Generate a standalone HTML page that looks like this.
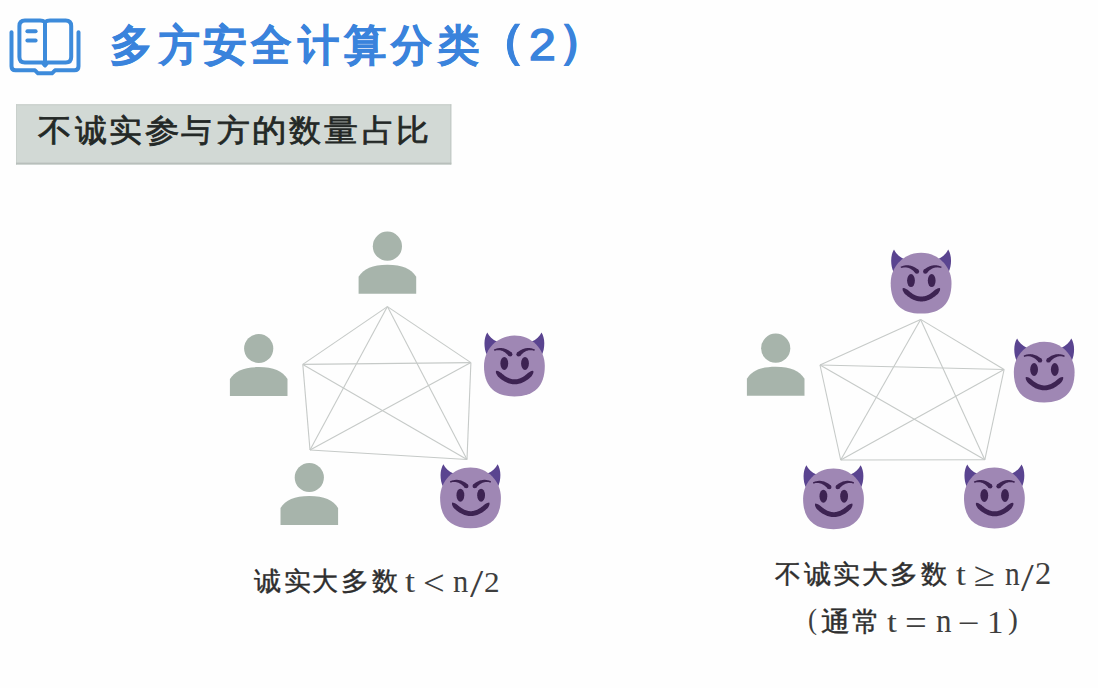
<!DOCTYPE html>
<html><head><meta charset="utf-8">
<style>
html,body{margin:0;padding:0;background:#fefefe;}
body{width:1098px;height:688px;position:relative;overflow:hidden;font-family:"Liberation Sans",sans-serif;}
.t{position:absolute;white-space:nowrap;line-height:1;transform-origin:0 0;}
.m{font-family:"Liberation Serif",serif;font-size:30px;color:#333;}
.c{font-size:28.5px;color:#333;-webkit-text-stroke:0.3px #333;}
</style></head><body>
<svg width="1098" height="688" viewBox="0 0 1098 688" style="position:absolute;left:0;top:0">
<defs>
<g id="imp">
 <path d="M-27.5,-11 C-30.8,-18 -30.8,-28 -27.1,-33.6 C-25.3,-29.8 -22,-26.6 -17,-24.2 Z" fill="#5a4490"/>
 <path d="M27.5,-11 C30.8,-18 30.8,-28 27.1,-33.6 C25.3,-29.8 22,-26.6 17,-24.2 Z" fill="#5a4490"/>
 <path d="M-30.4,0 C-30.4,-17.02 -17.02,-30.4 0,-30.4 C17.02,-30.4 30.4,-17.02 30.4,0 C30.4,20.06 20.06,30.4 0,30.4 C-20.06,30.4 -30.4,20.06 -30.4,0 Z" fill="#9f87b4"/>
 <g fill="#3d2352">
 <path d="M-20.04,-15.15 L-19.36,-15.37 L-18.68,-15.55 L-18.01,-15.68 L-17.36,-15.77 L-16.70,-15.82 L-16.06,-15.84 L-15.43,-15.81 L-14.81,-15.75 L-14.20,-15.66 L-13.59,-15.53 L-13.00,-15.36 L-12.41,-15.16 L-11.83,-14.93 L-11.25,-14.66 L-10.69,-14.36 L-10.12,-14.03 L-9.56,-13.66 L-9.01,-13.26 L-8.46,-12.83 L-7.91,-12.36 L-7.36,-11.85 L-6.82,-11.31 L-6.27,-10.74 L-5.74,-10.12 L-2.66,-13.28 L-3.41,-13.88 L-4.16,-14.44 L-4.91,-14.96 L-5.67,-15.44 L-6.42,-15.88 L-7.18,-16.28 L-7.94,-16.63 L-8.70,-16.95 L-9.46,-17.22 L-10.22,-17.45 L-10.98,-17.64 L-11.74,-17.79 L-12.50,-17.89 L-13.25,-17.95 L-14.00,-17.98 L-14.75,-17.96 L-15.49,-17.90 L-16.22,-17.80 L-16.96,-17.66 L-17.68,-17.49 L-18.41,-17.28 L-19.13,-17.03 L-19.84,-16.76 L-20.56,-16.45Z"/><circle cx="-4.20" cy="-11.70" r="2.2"/><path d="M20.56,-16.45 L19.84,-16.76 L19.13,-17.03 L18.41,-17.28 L17.68,-17.49 L16.96,-17.66 L16.22,-17.80 L15.49,-17.90 L14.75,-17.96 L14.00,-17.98 L13.25,-17.95 L12.50,-17.89 L11.74,-17.79 L10.98,-17.64 L10.22,-17.45 L9.46,-17.22 L8.70,-16.95 L7.94,-16.63 L7.18,-16.28 L6.42,-15.88 L5.67,-15.44 L4.91,-14.96 L4.16,-14.44 L3.41,-13.88 L2.66,-13.28 L5.74,-10.12 L6.27,-10.74 L6.82,-11.31 L7.36,-11.85 L7.91,-12.36 L8.46,-12.83 L9.01,-13.26 L9.56,-13.66 L10.12,-14.03 L10.69,-14.36 L11.25,-14.66 L11.83,-14.93 L12.41,-15.16 L13.00,-15.36 L13.59,-15.53 L14.20,-15.66 L14.81,-15.75 L15.43,-15.81 L16.06,-15.84 L16.70,-15.82 L17.36,-15.77 L18.01,-15.68 L18.68,-15.55 L19.36,-15.37 L20.04,-15.15Z"/><circle cx="4.20" cy="-11.70" r="2.2"/>
 <ellipse cx="-10.1" cy="-2.6" rx="3.9" ry="6.5"/>
 <ellipse cx="10.6" cy="-2.6" rx="3.9" ry="6.5"/>
 <path d="M-18.53,5.20 L-18.44,7.01 L-17.82,8.37 L-17.11,9.61 L-16.26,10.68 L-15.27,11.57 L-14.28,12.41 L-13.29,13.19 L-12.28,13.92 L-11.27,14.60 L-10.26,15.22 L-9.23,15.78 L-8.20,16.29 L-7.17,16.75 L-6.12,17.14 L-5.07,17.48 L-4.02,17.75 L-2.95,17.97 L-1.89,18.13 L-0.82,18.22 L0.25,18.25 L1.32,18.22 L2.39,18.13 L3.45,17.97 L4.52,17.75 L5.57,17.48 L6.62,17.14 L7.67,16.75 L8.70,16.29 L9.73,15.78 L10.76,15.22 L11.77,14.60 L12.78,13.92 L13.79,13.19 L14.78,12.41 L15.77,11.57 L16.76,10.68 L17.61,9.61 L18.32,8.37 L18.94,7.01 L19.03,5.20 L18.57,4.80 L16.81,5.09 L15.57,5.74 L14.43,6.39 L13.42,7.10 L12.55,7.88 L11.69,8.61 L10.83,9.28 L9.98,9.90 L9.13,10.47 L8.29,10.98 L7.46,11.44 L6.64,11.85 L5.82,12.21 L5.01,12.52 L4.20,12.77 L3.40,12.98 L2.61,13.14 L1.82,13.26 L1.04,13.33 L0.25,13.35 L-0.54,13.33 L-1.32,13.26 L-2.11,13.14 L-2.90,12.98 L-3.70,12.77 L-4.51,12.52 L-5.32,12.21 L-6.14,11.85 L-6.96,11.44 L-7.79,10.98 L-8.63,10.47 L-9.48,9.90 L-10.33,9.28 L-11.19,8.61 L-12.05,7.88 L-12.92,7.10 L-13.93,6.39 L-15.07,5.74 L-16.31,5.09 L-18.07,4.80Z"/>
 </g>
</g></defs>
<!-- book icon -->
<g fill="none" stroke="#3d8bdb" stroke-width="4" stroke-linecap="round" stroke-linejoin="round">
 <path d="M24.9,20.4 H40 Q43,20.4 45,22 Q47,20.4 50,20.4 H65.7 Q71.2,20.4 71.2,25.9 V56.9 Q71.2,62.4 65.7,62.4 H47.5 L45,65.5 L42.5,62.4 H24.9 Q19.4,62.4 19.4,56.9 V25.9 Q19.4,20.4 24.9,20.4 Z"/>
 <line x1="45" y1="22.5" x2="45" y2="64"/>
 <line x1="27.4" y1="31.3" x2="35.6" y2="31.3"/>
 <line x1="27.4" y1="40.5" x2="35.6" y2="40.5"/>
 <path d="M11.5,32.3 V66.3 Q11.5,70.3 15.5,70.3 H35 L38,73.3 H52 L55,70.3 H74.5 Q78.5,70.3 78.5,66.3 V32.3"/>
</g>
<!-- grey box -->
<rect x="16" y="104.3" width="435.3" height="60.2" fill="#d2d9d5"/>
<rect x="16" y="104.3" width="435.3" height="1" fill="#c6cdc9"/>
<rect x="16" y="104.3" width="1" height="60.2" fill="#c9d0cc"/>
<rect x="450.3" y="104.3" width="1" height="60.2" fill="#bfc6c2"/>
<rect x="16" y="162.6" width="435.3" height="1.9" fill="#b8bfbb"/>
<g stroke="#c6cac8" stroke-width="1.1"><line x1="387.4" y1="306.6" x2="302.8" y2="364.4"/><line x1="387.4" y1="306.6" x2="470.9" y2="362.6"/><line x1="387.4" y1="306.6" x2="310.0" y2="450.0"/><line x1="387.4" y1="306.6" x2="467.0" y2="459.5"/><line x1="302.8" y1="364.4" x2="470.9" y2="362.6"/><line x1="302.8" y1="364.4" x2="310.0" y2="450.0"/><line x1="302.8" y1="364.4" x2="467.0" y2="459.5"/><line x1="470.9" y1="362.6" x2="310.0" y2="450.0"/><line x1="470.9" y1="362.6" x2="467.0" y2="459.5"/><line x1="310.0" y1="450.0" x2="467.0" y2="459.5"/></g>
<g stroke="#c6cac8" stroke-width="1.1"><line x1="920.6" y1="319.4" x2="820.0" y2="365.0"/><line x1="920.6" y1="319.4" x2="1004.1" y2="369.5"/><line x1="920.6" y1="319.4" x2="840.7" y2="460.0"/><line x1="920.6" y1="319.4" x2="984.8" y2="459.8"/><line x1="820.0" y1="365.0" x2="1004.1" y2="369.5"/><line x1="820.0" y1="365.0" x2="840.7" y2="460.0"/><line x1="820.0" y1="365.0" x2="984.8" y2="459.8"/><line x1="1004.1" y1="369.5" x2="840.7" y2="460.0"/><line x1="1004.1" y1="369.5" x2="984.8" y2="459.8"/><line x1="840.7" y1="460.0" x2="984.8" y2="459.8"/></g>
<circle cx="387.4" cy="246.2" r="14.6" fill="#a7b4ab"/><path d="M358.6,293.8 V276.8 C363.6,268.8 372.4,264.8 387.4,264.8 C402.4,264.8 411.2,268.8 416.2,276.8 V293.8 Z" fill="#a7b4ab"/>
<circle cx="258.7" cy="348.5" r="14.6" fill="#a7b4ab"/><path d="M229.9,396.1 V379.1 C234.9,371.1 243.7,367.1 258.7,367.1 C273.7,367.1 282.5,371.1 287.5,379.1 V396.1 Z" fill="#a7b4ab"/>
<circle cx="309.3" cy="477.5" r="14.6" fill="#a7b4ab"/><path d="M280.5,525.1 V508.1 C285.5,500.1 294.3,496.1 309.3,496.1 C324.3,496.1 333.1,500.1 338.1,508.1 V525.1 Z" fill="#a7b4ab"/>
<circle cx="775.7" cy="348.2" r="14.6" fill="#a7b4ab"/><path d="M746.9,395.8 V378.8 C751.9,370.8 760.7,366.8 775.7,366.8 C790.7,366.8 799.5,370.8 804.5,378.8 V395.8 Z" fill="#a7b4ab"/>
<use href="#imp" transform="translate(514.4,366) scale(1.0)"/>
<use href="#imp" transform="translate(470.5,497.8) scale(1.0)"/>
<use href="#imp" transform="translate(921.1,283.2) scale(1.0)"/>
<use href="#imp" transform="translate(1044.2,372.1) scale(1.0)"/>
<use href="#imp" transform="translate(833.5,498.8) scale(1.0)"/>
<use href="#imp" transform="translate(994.4,498) scale(1.0)"/>
</svg>
<div class="t" style="left:475.27px;top:18.00px;font-size:46.4px;font-weight:bold;-webkit-text-stroke:0.6px #3a83dc;color:#3a83dc;transform:scale(1.092,1.008)">（</div>
<div class="t" style="left:528.53px;top:21.98px;font-size:46px;-webkit-text-stroke:1.6px #3a83dc;color:#3a83dc;transform:scale(1.044,0.979)">2</div>
<div class="t" style="left:558.49px;top:18.00px;font-size:46.4px;font-weight:bold;-webkit-text-stroke:0.6px #3a83dc;color:#3a83dc;transform:scale(1.050,1.008)">）</div>
<div class="t" style="left:404.50px;top:565.28px;font-family:'Liberation Serif',serif;font-size:30px;color:#3e3e3e;transform:scale(1.212,1.065)">t</div>
<div class="t" style="left:422.67px;top:565.85px;font-family:'Liberation Serif',serif;font-size:30px;color:#3e3e3e;transform:scale(1.286,1.165)">&lt;</div>
<div class="t" style="left:453.34px;top:564.71px;font-family:'Liberation Serif',serif;font-size:30px;color:#3e3e3e;transform:scale(1.018,1.079)">n</div>
<div class="t" style="left:470.10px;top:564.35px;font-family:'Liberation Serif',serif;font-size:30px;color:#3e3e3e;transform:scale(1.588,1.330)">/</div>
<div class="t" style="left:484.40px;top:566.78px;font-family:'Liberation Serif',serif;font-size:30px;color:#3e3e3e;transform:scale(1.042,0.992)">2</div>
<div class="t" style="left:956.20px;top:557.78px;font-family:'Liberation Serif',serif;font-size:30px;color:#3e3e3e;transform:scale(1.188,1.065)">t</div>
<div class="t" style="left:974.29px;top:556.93px;font-family:'Liberation Serif',serif;font-size:30px;color:#3e3e3e;transform:scale(1.286,1.153)">≥</div>
<div class="t" style="left:1004.86px;top:556.86px;font-family:'Liberation Serif',serif;font-size:30px;color:#3e3e3e;transform:scale(0.982,1.114)">n</div>
<div class="t" style="left:1021.10px;top:556.74px;font-family:'Liberation Serif',serif;font-size:30px;color:#3e3e3e;transform:scale(1.527,1.355)">/</div>
<div class="t" style="left:1035.35px;top:559.17px;font-family:'Liberation Serif',serif;font-size:30px;color:#3e3e3e;transform:scale(1.083,1.018)">2</div>
<div class="t" style="left:807.87px;top:604.87px;font-family:'Liberation Serif',serif;font-size:30px;color:#3e3e3e;transform:scale(0.903,0.963)">(</div>
<div class="t" style="left:886.90px;top:606.71px;font-family:'Liberation Serif',serif;font-size:30px;color:#3e3e3e;transform:scale(1.188,1.006)">t</div>
<div class="t" style="left:905.27px;top:605.97px;font-family:'Liberation Serif',serif;font-size:30px;color:#3e3e3e;transform:scale(1.286,1.173)">=</div>
<div class="t" style="left:935.93px;top:604.44px;font-family:'Liberation Serif',serif;font-size:30px;color:#3e3e3e;transform:scale(1.033,1.136)">n</div>
<div class="t" style="left:958.27px;top:608.40px;font-family:'Liberation Serif',serif;font-size:30px;color:#3e3e3e;transform:scale(1.286,1.000)">−</div>
<div class="t" style="left:986.69px;top:607.15px;font-family:'Liberation Serif',serif;font-size:30px;color:#3e3e3e;transform:scale(1.095,1.023)">1</div>
<div class="t" style="left:1007.81px;top:605.05px;font-family:'Liberation Serif',serif;font-size:30px;color:#3e3e3e;transform:scale(0.994,0.970)">)</div>
<div class="t" style="left:110.19px;top:23.66px;font-size:46.4px;font-weight:bold;-webkit-text-stroke:0.6px #3a83dc;color:#3a83dc;transform:scale(0.912,0.930)">多</div>
<div class="t" style="left:158.92px;top:23.66px;font-size:46.4px;font-weight:bold;-webkit-text-stroke:0.6px #3a83dc;color:#3a83dc;transform:scale(0.883,0.930)">方</div>
<div class="t" style="left:202.69px;top:23.66px;font-size:46.4px;font-weight:bold;-webkit-text-stroke:0.6px #3a83dc;color:#3a83dc;transform:scale(0.951,0.930)">安</div>
<div class="t" style="left:251.37px;top:23.66px;font-size:46.4px;font-weight:bold;-webkit-text-stroke:0.6px #3a83dc;color:#3a83dc;transform:scale(0.871,0.930)">全</div>
<div class="t" style="left:298.27px;top:23.66px;font-size:46.4px;font-weight:bold;-webkit-text-stroke:0.6px #3a83dc;color:#3a83dc;transform:scale(0.892,0.930)">计</div>
<div class="t" style="left:344.09px;top:23.66px;font-size:46.4px;font-weight:bold;-webkit-text-stroke:0.6px #3a83dc;color:#3a83dc;transform:scale(0.915,0.930)">算</div>
<div class="t" style="left:390.90px;top:23.66px;font-size:46.4px;font-weight:bold;-webkit-text-stroke:0.6px #3a83dc;color:#3a83dc;transform:scale(0.881,0.930)">分</div>
<div class="t" style="left:438.49px;top:23.66px;font-size:46.4px;font-weight:bold;-webkit-text-stroke:0.6px #3a83dc;color:#3a83dc;transform:scale(0.892,0.930)">类</div>
<div class="t" style="left:38.44px;top:115.42px;font-size:35.3px;-webkit-text-stroke:0.8px #232826;color:#232826;transform:scale(0.958,0.882)">不</div>
<div class="t" style="left:74.63px;top:115.42px;font-size:35.3px;-webkit-text-stroke:0.8px #232826;color:#232826;transform:scale(0.917,0.882)">诚</div>
<div class="t" style="left:109.19px;top:115.42px;font-size:35.3px;-webkit-text-stroke:0.8px #232826;color:#232826;transform:scale(0.937,0.882)">实</div>
<div class="t" style="left:145.15px;top:115.42px;font-size:35.3px;-webkit-text-stroke:0.8px #232826;color:#232826;transform:scale(0.984,0.882)">参</div>
<div class="t" style="left:181.38px;top:115.42px;font-size:35.3px;-webkit-text-stroke:0.8px #232826;color:#232826;transform:scale(0.865,0.882)">与</div>
<div class="t" style="left:217.10px;top:115.42px;font-size:35.3px;-webkit-text-stroke:0.8px #232826;color:#232826;transform:scale(0.937,0.882)">方</div>
<div class="t" style="left:252.04px;top:115.42px;font-size:35.3px;-webkit-text-stroke:0.8px #232826;color:#232826;transform:scale(0.979,0.882)">的</div>
<div class="t" style="left:289.13px;top:115.42px;font-size:35.3px;-webkit-text-stroke:0.8px #232826;color:#232826;transform:scale(0.916,0.882)">数</div>
<div class="t" style="left:323.66px;top:115.42px;font-size:35.3px;-webkit-text-stroke:0.8px #232826;color:#232826;transform:scale(0.965,0.882)">量</div>
<div class="t" style="left:362.11px;top:115.42px;font-size:35.3px;-webkit-text-stroke:0.8px #232826;color:#232826;transform:scale(0.926,0.882)">占</div>
<div class="t" style="left:396.06px;top:115.42px;font-size:35.3px;-webkit-text-stroke:0.8px #232826;color:#232826;transform:scale(0.938,0.882)">比</div>
<div class="t" style="left:774.90px;top:560.95px;font-size:28.5px;-webkit-text-stroke:0.45px #2e2e2e;color:#2e2e2e;transform:scale(0.920,0.919)">不</div>
<div class="t" style="left:803.60px;top:560.95px;font-size:28.5px;-webkit-text-stroke:0.45px #2e2e2e;color:#2e2e2e;transform:scale(0.967,0.919)">诚</div>
<div class="t" style="left:832.71px;top:560.95px;font-size:28.5px;-webkit-text-stroke:0.45px #2e2e2e;color:#2e2e2e;transform:scale(0.952,0.919)">实</div>
<div class="t" style="left:861.58px;top:560.95px;font-size:28.5px;-webkit-text-stroke:0.45px #2e2e2e;color:#2e2e2e;transform:scale(0.916,0.919)">大</div>
<div class="t" style="left:890.36px;top:560.95px;font-size:28.5px;-webkit-text-stroke:0.45px #2e2e2e;color:#2e2e2e;transform:scale(0.990,0.919)">多</div>
<div class="t" style="left:920.70px;top:560.95px;font-size:28.5px;-webkit-text-stroke:0.45px #2e2e2e;color:#2e2e2e;transform:scale(0.921,0.919)">数</div>
<div class="t" style="left:254.40px;top:568.35px;font-size:28.5px;-webkit-text-stroke:0.45px #2e2e2e;color:#2e2e2e;transform:scale(0.967,0.919)">诚</div>
<div class="t" style="left:283.51px;top:568.35px;font-size:28.5px;-webkit-text-stroke:0.45px #2e2e2e;color:#2e2e2e;transform:scale(0.952,0.919)">实</div>
<div class="t" style="left:312.38px;top:568.35px;font-size:28.5px;-webkit-text-stroke:0.45px #2e2e2e;color:#2e2e2e;transform:scale(0.916,0.919)">大</div>
<div class="t" style="left:341.16px;top:568.35px;font-size:28.5px;-webkit-text-stroke:0.45px #2e2e2e;color:#2e2e2e;transform:scale(0.990,0.919)">多</div>
<div class="t" style="left:371.50px;top:568.35px;font-size:28.5px;-webkit-text-stroke:0.45px #2e2e2e;color:#2e2e2e;transform:scale(0.921,0.919)">数</div>
<div class="t" style="left:820.98px;top:608.22px;font-size:28.5px;-webkit-text-stroke:0.45px #2e2e2e;color:#2e2e2e;transform:scale(1.032,0.958)">通</div>
<div class="t" style="left:852.36px;top:608.22px;font-size:28.5px;-webkit-text-stroke:0.45px #2e2e2e;color:#2e2e2e;transform:scale(0.983,0.958)">常</div>

</body></html>
